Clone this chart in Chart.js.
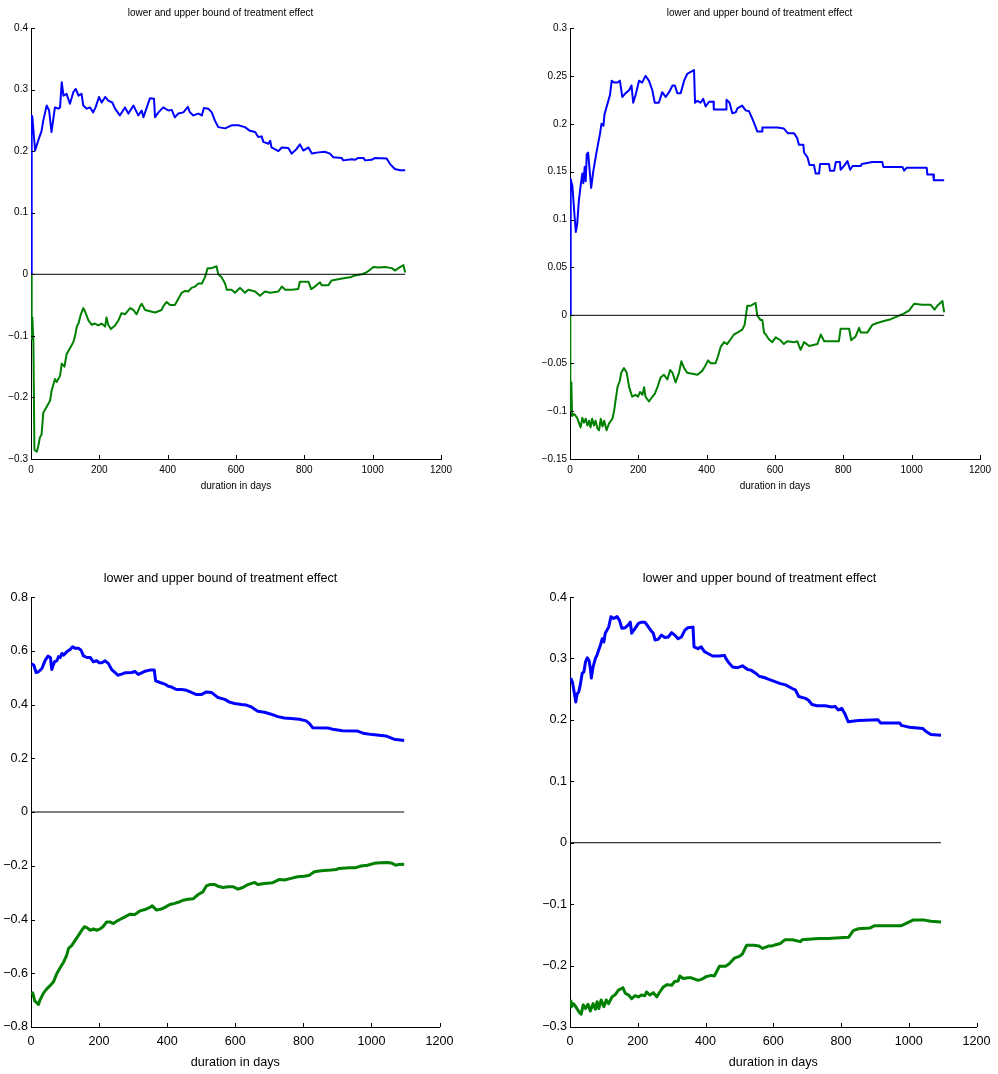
<!DOCTYPE html>
<html>
<head>
<meta charset="utf-8">
<title>lower and upper bound of treatment effect</title>
<script src="https://cdn.jsdelivr.net/npm/chart.js@4.4.1/dist/chart.umd.min.js"></script>
<style>
  html, body { margin: 0; padding: 0; background: #fff; overflow: hidden; }
  body { width: 998px; height: 1074px; position: relative; }
  canvas { position: absolute; }
</style>
</head>
<body>
<canvas id="tl" width="461" height="500" style="left:0;top:0"></canvas>
<canvas id="tr" width="459" height="500" style="left:539px;top:0"></canvas>
<canvas id="bl" width="461" height="511" style="left:0;top:560px"></canvas>
<canvas id="br" width="459" height="511" style="left:539px;top:560px"></canvas>
<script>
const chartTitle = "lower and upper bound of treatment effect";
const xTitle = "duration in days";
const xTicks = [0, 200, 400, 600, 800, 1000, 1200];

// [day, value], one list per curve
const upperTL = [[0,0],[2,0.258],[4,0.255],[12,0.201],[21,0.217],[31,0.233],[36,0.25],[46,0.274],[53,0.266],[60,0.231],[70,0.271],[80,0.269],[85,0.271],[90,0.312],[95,0.29],[104,0.293],[114,0.277],[124,0.296],[131,0.301],[139,0.29],[148,0.293],[153,0.274],[163,0.269],[173,0.271],[182,0.263],[189,0.271],[199,0.288],[207,0.279],[217,0.288],[226,0.282],[238,0.279],[246,0.269],[260,0.258],[275,0.271],[285,0.261],[300,0.274],[314,0.258],[324,0.266],[329,0.255],[339,0.271],[348,0.286],[360,0.285],[363,0.255],[373,0.263],[387,0.271],[402,0.266],[412,0.267],[421,0.255],[431,0.261],[446,0.263],[459,0.272],[465,0.263],[475,0.258],[490,0.261],[500,0.258],[506,0.27],[519,0.269],[529,0.263],[538,0.25],[548,0.239],[568,0.237],[587,0.242],[607,0.242],[626,0.239],[641,0.233],[656,0.231],[665,0.223],[675,0.224],[680,0.215],[695,0.212],[700,0.217],[704,0.206],[724,0.2],[734,0.206],[753,0.205],[763,0.196],[778,0.204],[787,0.211],[797,0.201],[812,0.206],[822,0.196],[841,0.198],[860,0.199],[875,0.196],[885,0.19],[909,0.189],[914,0.185],[939,0.187],[948,0.186],[958,0.189],[973,0.189],[978,0.185],[997,0.186],[1007,0.189],[1041,0.188],[1051,0.179],[1065,0.171],[1080,0.169],[1095,0.169]];
const lowerTL = [[0,0],[2,-0.105],[4,-0.07],[7,-0.11],[10,-0.285],[17,-0.288],[21,-0.28],[26,-0.265],[31,-0.26],[36,-0.225],[46,-0.215],[56,-0.205],[60,-0.19],[70,-0.17],[75,-0.175],[85,-0.165],[90,-0.145],[98,-0.15],[104,-0.13],[114,-0.12],[124,-0.11],[129,-0.1],[134,-0.085],[139,-0.08],[146,-0.065],[153,-0.055],[158,-0.06],[168,-0.075],[178,-0.082],[187,-0.08],[197,-0.083],[207,-0.08],[217,-0.085],[221,-0.07],[226,-0.082],[234,-0.089],[246,-0.083],[256,-0.075],[265,-0.063],[275,-0.065],[290,-0.055],[300,-0.058],[309,-0.065],[319,-0.052],[324,-0.048],[334,-0.058],[348,-0.06],[363,-0.062],[373,-0.06],[382,-0.058],[387,-0.052],[397,-0.045],[407,-0.05],[421,-0.05],[431,-0.04],[441,-0.03],[451,-0.027],[460,-0.028],[470,-0.022],[480,-0.02],[490,-0.015],[500,-0.015],[509,-0.005],[517,0.01],[529,0.01],[543,0.013],[548,0],[558,-0.005],[568,-0.015],[573,-0.025],[587,-0.025],[597,-0.03],[612,-0.022],[626,-0.03],[636,-0.025],[656,-0.028],[670,-0.035],[685,-0.028],[700,-0.03],[724,-0.028],[734,-0.02],[744,-0.025],[763,-0.025],[782,-0.024],[787,-0.012],[812,-0.012],[820,-0.024],[831,-0.02],[846,-0.013],[851,-0.018],[870,-0.018],[880,-0.01],[899,-0.008],[919,-0.006],[934,-0.005],[948,-0.002],[968,0],[978,0.002],[987,0.005],[1002,0.012],[1017,0.011],[1036,0.012],[1056,0.01],[1066,0.006],[1075,0.01],[1090,0.015],[1095,0.003]];
const yTicksTL = [-0.3, -0.2, -0.1, 0, 0.1, 0.2, 0.3, 0.4];

const upperTR = [[0,0],[2,0.142],[7,0.135],[12,0.11],[17,0.087],[21,0.095],[26,0.12],[31,0.135],[36,0.148],[39,0.138],[43,0.155],[46,0.14],[49,0.168],[53,0.17],[59,0.145],[62,0.133],[68,0.15],[75,0.165],[80,0.175],[88,0.19],[92,0.2],[98,0.198],[101,0.21],[109,0.22],[117,0.23],[122,0.245],[129,0.243],[139,0.243],[146,0.245],[153,0.228],[163,0.232],[173,0.235],[180,0.24],[185,0.222],[192,0.23],[202,0.245],[211,0.243],[221,0.25],[231,0.245],[241,0.235],[248,0.222],[260,0.222],[270,0.233],[280,0.228],[290,0.233],[300,0.24],[307,0.24],[314,0.232],[324,0.232],[334,0.245],[343,0.252],[363,0.256],[366,0.222],[373,0.224],[382,0.222],[390,0.226],[397,0.218],[407,0.223],[420,0.223],[421,0.215],[457,0.215],[458,0.225],[467,0.222],[475,0.211],[485,0.212],[490,0.216],[504,0.219],[514,0.214],[524,0.213],[534,0.205],[543,0.197],[548,0.192],[562,0.192],[563,0.196],[607,0.196],[626,0.195],[638,0.19],[656,0.19],[665,0.185],[670,0.178],[683,0.178],[685,0.17],[695,0.165],[701,0.157],[714,0.157],[719,0.148],[729,0.148],[732,0.158],[758,0.158],[761,0.151],[773,0.151],[778,0.16],[790,0.16],[792,0.152],[802,0.156],[812,0.161],[820,0.152],[827,0.156],[851,0.156],[854,0.158],[885,0.16],[914,0.16],[917,0.155],[973,0.155],[978,0.151],[985,0.154],[1044,0.154],[1046,0.147],[1063,0.147],[1065,0.141],[1095,0.141]];
const lowerTR = [[0,0],[1,-0.07],[3,-0.1],[4,-0.07],[6,-0.105],[12,-0.103],[21,-0.107],[31,-0.117],[36,-0.107],[41,-0.112],[46,-0.108],[51,-0.115],[56,-0.11],[60,-0.117],[65,-0.108],[70,-0.115],[75,-0.11],[80,-0.118],[85,-0.12],[90,-0.108],[95,-0.116],[100,-0.11],[107,-0.12],[114,-0.113],[124,-0.108],[129,-0.1],[139,-0.075],[146,-0.068],[150,-0.06],[158,-0.055],[166,-0.06],[173,-0.075],[182,-0.085],[192,-0.083],[199,-0.085],[205,-0.08],[212,-0.083],[217,-0.075],[221,-0.085],[231,-0.09],[241,-0.085],[248,-0.082],[256,-0.075],[265,-0.065],[275,-0.062],[285,-0.067],[293,-0.057],[300,-0.06],[309,-0.07],[319,-0.06],[326,-0.048],[334,-0.055],[343,-0.06],[358,-0.061],[373,-0.062],[387,-0.058],[397,-0.052],[404,-0.047],[412,-0.05],[426,-0.05],[433,-0.043],[441,-0.033],[451,-0.028],[460,-0.03],[470,-0.025],[480,-0.02],[490,-0.018],[504,-0.015],[511,-0.01],[519,0.01],[529,0.01],[543,0.013],[548,0],[558,-0.005],[563,-0.005],[568,-0.018],[573,-0.02],[582,-0.025],[592,-0.028],[602,-0.023],[616,-0.026],[626,-0.03],[636,-0.027],[656,-0.028],[665,-0.027],[675,-0.036],[685,-0.028],[700,-0.032],[724,-0.03],[734,-0.02],[744,-0.027],[773,-0.027],[787,-0.027],[792,-0.014],[817,-0.014],[823,-0.026],[836,-0.022],[846,-0.013],[851,-0.018],[870,-0.018],[885,-0.01],[899,-0.008],[919,-0.006],[939,-0.004],[958,-0.001],[978,0.002],[992,0.005],[1007,0.012],[1031,0.011],[1056,0.011],[1067,0.006],[1075,0.01],[1090,0.015],[1095,0.003]];
const yTicksTR = [-0.15, -0.1, -0.05, 0, 0.05, 0.1, 0.15, 0.2, 0.25, 0.3];

const upperBL = [[1,0.552],[3,0.55],[8,0.547],[15,0.519],[22,0.522],[32,0.534],[42,0.565],[50,0.58],[57,0.575],[61,0.53],[69,0.559],[76,0.563],[81,0.578],[86,0.575],[91,0.59],[96,0.584],[105,0.596],[115,0.605],[122,0.615],[130,0.609],[140,0.609],[147,0.602],[154,0.581],[164,0.575],[174,0.575],[183,0.559],[193,0.563],[200,0.555],[208,0.555],[217,0.563],[227,0.553],[237,0.53],[247,0.519],[255,0.509],[266,0.513],[276,0.518],[296,0.519],[305,0.523],[315,0.512],[325,0.518],[335,0.524],[349,0.528],[362,0.528],[366,0.488],[379,0.482],[393,0.476],[403,0.468],[413,0.465],[427,0.456],[442,0.456],[457,0.453],[471,0.445],[486,0.437],[500,0.437],[515,0.447],[530,0.445],[540,0.435],[549,0.426],[569,0.419],[583,0.409],[598,0.404],[618,0.4],[632,0.398],[647,0.391],[666,0.375],[686,0.371],[705,0.364],[725,0.355],[744,0.35],[764,0.348],[788,0.345],[808,0.339],[818,0.329],[827,0.314],[871,0.313],[886,0.308],[915,0.302],[959,0.301],[979,0.292],[1003,0.288],[1042,0.283],[1066,0.271],[1096,0.266]];
const lowerBL = [[1,-0.68],[5,-0.673],[11,-0.703],[18,-0.711],[22,-0.716],[27,-0.698],[37,-0.673],[47,-0.657],[57,-0.645],[66,-0.632],[76,-0.601],[86,-0.579],[96,-0.558],[105,-0.533],[110,-0.508],[120,-0.496],[130,-0.477],[140,-0.458],[149,-0.44],[157,-0.427],[164,-0.43],[174,-0.44],[183,-0.435],[193,-0.44],[203,-0.435],[213,-0.425],[222,-0.409],[232,-0.409],[242,-0.415],[252,-0.406],[261,-0.4],[276,-0.39],[291,-0.38],[305,-0.381],[320,-0.368],[335,-0.363],[349,-0.355],[356,-0.349],[369,-0.365],[383,-0.361],[393,-0.355],[408,-0.344],[422,-0.34],[437,-0.334],[447,-0.328],[461,-0.325],[476,-0.323],[491,-0.307],[505,-0.297],[515,-0.275],[525,-0.27],[540,-0.27],[549,-0.276],[564,-0.281],[579,-0.278],[593,-0.278],[608,-0.287],[622,-0.281],[637,-0.27],[657,-0.262],[666,-0.27],[686,-0.266],[710,-0.263],[730,-0.251],[744,-0.253],[764,-0.247],[783,-0.241],[803,-0.239],[818,-0.235],[832,-0.222],[852,-0.219],[881,-0.216],[896,-0.214],[905,-0.21],[935,-0.207],[954,-0.207],[969,-0.201],[988,-0.198],[1008,-0.191],[1027,-0.189],[1047,-0.188],[1061,-0.191],[1071,-0.198],[1081,-0.195],[1096,-0.194]];
const yTicksBL = [-0.8, -0.6, -0.4, -0.2, 0, 0.2, 0.4, 0.6, 0.8];

const upperBR = [[2,0.268],[7,0.262],[12,0.246],[17,0.229],[21,0.242],[26,0.246],[31,0.259],[36,0.276],[41,0.278],[46,0.295],[51,0.301],[56,0.297],[60,0.284],[63,0.268],[68,0.286],[75,0.3],[80,0.306],[85,0.314],[90,0.322],[95,0.332],[100,0.327],[104,0.341],[109,0.346],[114,0.351],[121,0.368],[129,0.365],[139,0.368],[146,0.362],[153,0.349],[163,0.35],[173,0.355],[178,0.359],[182,0.341],[192,0.349],[202,0.357],[211,0.359],[221,0.359],[228,0.354],[238,0.346],[246,0.341],[251,0.33],[260,0.331],[270,0.338],[280,0.334],[290,0.335],[300,0.342],[309,0.338],[319,0.332],[329,0.335],[339,0.346],[348,0.35],[363,0.351],[366,0.319],[378,0.316],[387,0.319],[397,0.311],[407,0.308],[421,0.304],[441,0.304],[456,0.305],[460,0.3],[470,0.292],[480,0.286],[495,0.285],[509,0.288],[524,0.282],[534,0.281],[548,0.276],[558,0.271],[573,0.269],[587,0.266],[607,0.262],[621,0.259],[636,0.257],[656,0.251],[665,0.249],[675,0.238],[695,0.235],[704,0.232],[714,0.225],[729,0.223],[753,0.223],[773,0.221],[782,0.222],[792,0.216],[802,0.219],[812,0.209],[821,0.197],[851,0.199],[909,0.2],[917,0.195],[973,0.195],[978,0.191],[1002,0.188],[1041,0.186],[1051,0.181],[1065,0.176],[1095,0.175]];
const lowerBR = [[2,-0.256],[4,-0.267],[10,-0.262],[17,-0.267],[26,-0.275],[33,-0.279],[39,-0.264],[46,-0.27],[53,-0.263],[60,-0.274],[68,-0.262],[75,-0.271],[80,-0.259],[85,-0.27],[92,-0.256],[100,-0.267],[107,-0.256],[114,-0.262],[124,-0.251],[134,-0.247],[143,-0.24],[150,-0.238],[156,-0.236],[163,-0.245],[173,-0.248],[182,-0.254],[192,-0.249],[202,-0.251],[211,-0.248],[221,-0.249],[226,-0.243],[236,-0.248],[246,-0.244],[256,-0.251],[265,-0.243],[275,-0.235],[287,-0.231],[300,-0.232],[309,-0.226],[319,-0.225],[324,-0.217],[334,-0.221],[348,-0.22],[358,-0.22],[368,-0.222],[378,-0.224],[390,-0.222],[402,-0.218],[417,-0.216],[426,-0.217],[441,-0.201],[459,-0.201],[470,-0.197],[485,-0.188],[500,-0.185],[509,-0.181],[521,-0.167],[543,-0.167],[558,-0.168],[568,-0.172],[578,-0.17],[587,-0.168],[597,-0.168],[607,-0.166],[621,-0.164],[634,-0.158],[656,-0.158],[680,-0.161],[685,-0.158],[734,-0.156],[763,-0.156],[784,-0.155],[822,-0.154],[836,-0.143],[851,-0.14],[885,-0.139],[899,-0.135],[919,-0.135],[978,-0.135],[997,-0.13],[1012,-0.126],[1046,-0.126],[1065,-0.128],[1095,-0.129]];
const yTicksBR = [-0.3, -0.2, -0.1, 0, 0.1, 0.2, 0.3, 0.4];

const fontFamily = '"Liberation Sans", Arial, Helvetica, sans-serif';
Chart.defaults.color = "#000";
Chart.defaults.font.family = fontFamily;

function formatTick(v) {
  const n = Math.round(Math.abs(v) * 100) / 100;
  return (v < 0 ? "\u2212" : "") + n;
}

// MATLAB style: tick marks point into the plot
const inwardTicks = {
  id: "inwardTicks",
  afterDatasetsDraw(chart) {
    const { ctx, chartArea: a, scales: { x, y } } = chart;
    ctx.save();
    ctx.strokeStyle = "#000";
    ctx.lineWidth = 1;
    ctx.beginPath();
    x.ticks.forEach((t) => {
      const p = Math.round(x.getPixelForValue(t.value)) + 0.5;
      ctx.moveTo(p, a.bottom);
      ctx.lineTo(p, a.bottom - 4);
    });
    y.ticks.forEach((t) => {
      const p = Math.round(y.getPixelForValue(t.value)) + 0.5;
      ctx.moveTo(a.left, p);
      ctx.lineTo(a.left + 4, p);
    });
    ctx.stroke();
    ctx.restore();
  }
};

function drawPanel(id, upper, lower, yTicks, big, padRight) {
  const size = big ? 12.6 : 10;
  const lastDay = upper[upper.length - 1][0];
  const toPoints = (list) => list.map(([x, y]) => ({ x, y }));
  new Chart(document.getElementById(id), {
    type: "line",
    data: {
      datasets: [
        { data: [{ x: 0, y: 0 }, { x: lastDay, y: 0 }], borderColor: "#000", borderWidth: 1 },
        { data: toPoints(upper), borderColor: "#0000ff", borderWidth: big ? 3 : 2 },
        { data: toPoints(lower), borderColor: "#008000", borderWidth: big ? 3 : 2 }
      ]
    },
    options: {
      responsive: false,
      animation: false,
      events: [],
      elements: { point: { radius: 0 }, line: { tension: 0, fill: false, borderJoinStyle: "round" } },
      layout: { padding: { left: 0, top: 0, bottom: 0, right: padRight } },
      plugins: {
        legend: { display: false },
        tooltip: { enabled: false },
        title: {
          display: true,
          text: chartTitle,
          color: "#000",
          font: { family: fontFamily, size, weight: "normal" },
          padding: big ? { top: 11.4, bottom: 10.5 } : { top: 7, bottom: 9 }
        }
      },
      scales: {
        x: {
          type: "linear",
          min: xTicks[0],
          max: xTicks[xTicks.length - 1],
          grid: { display: false, drawTicks: false },
          border: { display: true, color: "#000", width: 1 },
          ticks: { autoSkip: false, maxRotation: 0, padding: big ? 7.4 : 5, font: { size }, callback: formatTick },
          afterBuildTicks: (scale) => { scale.ticks = xTicks.map((value) => ({ value })); },
          afterFit: (scale) => { scale.height = big ? 44 : 41; },
          title: { display: true, text: xTitle, font: { size }, padding: { top: 0, bottom: big ? 1.4 : 8 } }
        },
        y: {
          type: "linear",
          min: yTicks[0],
          max: yTicks[yTicks.length - 1],
          grid: { display: false, drawTicks: false },
          border: { display: true, color: "#000", width: 1 },
          ticks: { autoSkip: false, padding: 3, font: { size }, callback: formatTick },
          afterBuildTicks: (scale) => { scale.ticks = yTicks.map((value) => ({ value })); },
          afterFit: (scale) => { scale.width = 31; }
        }
      }
    },
    plugins: [inwardTicks]
  });
}

drawPanel("tl", upperTL, lowerTL, yTicksTL, false, 20);
drawPanel("tr", upperTR, lowerTR, yTicksTR, false, 18);
drawPanel("bl", upperBL, lowerBL, yTicksBL, true, 20);
drawPanel("br", upperBR, lowerBR, yTicksBR, true, 18);
</script>
</body>
</html>
